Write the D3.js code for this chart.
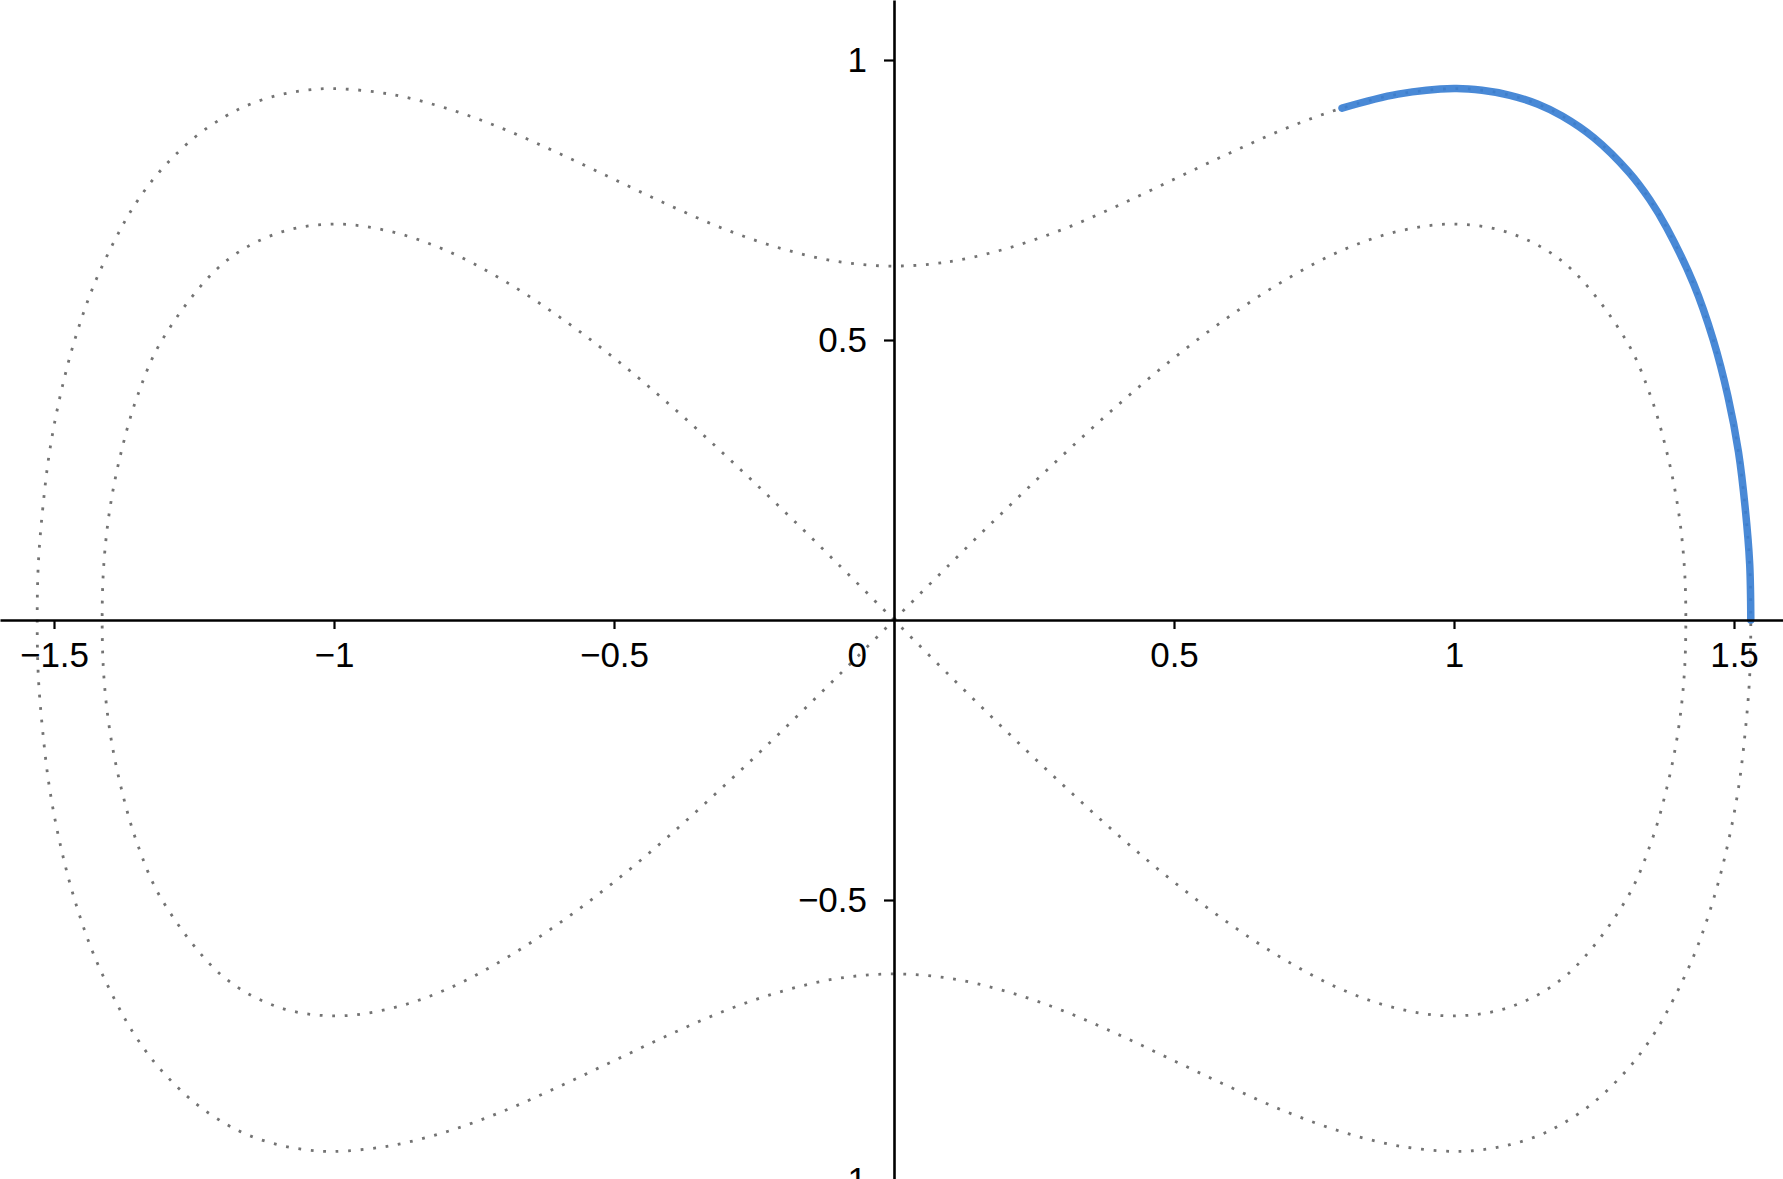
<!DOCTYPE html>
<html>
<head>
<meta charset="utf-8">
<script src="https://cdn.jsdelivr.net/npm/d3@7"></script>
<style>
  html, body { margin: 0; padding: 0; background: #ffffff; }
  svg { display: block; }
  .tick text { font-family: "Liberation Sans", Arial, sans-serif; }
</style>
</head>
<body>
<svg id="chart" width="1783" height="1179"></svg>
<script>
// ---- data ----
// outer closed orbit (level curve), traversed around the whole loop
const outerOrbit = [
  [0,0.632],[0.1,0.640],[0.2,0.663],[0.3,0.697],[0.4,0.740],[0.5,0.787],[0.6,0.834],[0.7,0.878],
  [0.8,0.914],[0.9,0.939],[1.0,0.949],[1.05,0.946],[1.1,0.937],[1.15,0.921],[1.193,0.9],[1.25,0.861],
  [1.312,0.8],[1.350,0.75],[1.380,0.7],[1.428,0.6],
  [1.463,0.5],[1.489,0.4],[1.508,0.3],[1.520,0.2],[1.528,0.1],[1.530,0],
  [1.528,-0.1],[1.520,-0.2],[1.508,-0.3],[1.489,-0.4],[1.463,-0.5],[1.428,-0.6],[1.380,-0.7],
  [1.350,-0.75],[1.312,-0.8],[1.25,-0.861],[1.193,-0.9],[1.15,-0.921],[1.1,-0.937],[1.05,-0.946],
  [1.0,-0.949],[0.9,-0.939],[0.8,-0.914],[0.7,-0.878],
  [0.6,-0.834],[0.5,-0.787],[0.4,-0.740],[0.3,-0.697],[0.2,-0.663],[0.1,-0.640],[0,-0.632],
  [-0.1,-0.640],[-0.2,-0.663],[-0.3,-0.697],[-0.4,-0.740],[-0.5,-0.787],[-0.6,-0.834],[-0.7,-0.878],
  [-0.8,-0.914],[-0.9,-0.939],[-1.0,-0.949],[-1.05,-0.946],[-1.1,-0.937],[-1.15,-0.921],[-1.193,-0.9],
  [-1.25,-0.861],[-1.312,-0.8],[-1.350,-0.75],[-1.380,-0.7],
  [-1.428,-0.6],[-1.463,-0.5],[-1.489,-0.4],[-1.508,-0.3],[-1.520,-0.2],[-1.528,-0.1],[-1.530,0],
  [-1.528,0.1],[-1.520,0.2],[-1.508,0.3],[-1.489,0.4],[-1.463,0.5],[-1.428,0.6],[-1.380,0.7],
  [-1.350,0.75],[-1.312,0.8],[-1.25,0.861],[-1.193,0.9],[-1.15,0.921],[-1.1,0.937],[-1.05,0.946],
  [-1.0,0.949],[-0.9,0.939],[-0.8,0.914],[-0.7,0.878],
  [-0.6,0.834],[-0.5,0.787],[-0.4,0.740],[-0.3,0.697],[-0.2,0.663],[-0.1,0.640]
];
// inner figure-eight (separatrix), right lobe
const innerRightLobe = [
  [0,0],[0.1,0.1],[0.2,0.198],[0.3,0.293],[0.4,0.384],[0.5,0.468],[0.6,0.543],[0.7,0.608],
  [0.8,0.660],[0.9,0.694],[1.0,0.707],[1.1,0.691],[1.2,0.635],[1.307,0.5],[1.351,0.4],
  [1.380,0.3],[1.400,0.2],[1.411,0.1],[1.414,0],
  [1.411,-0.1],[1.400,-0.2],[1.380,-0.3],[1.351,-0.4],[1.307,-0.5],[1.2,-0.635],[1.1,-0.691],
  [1.0,-0.707],[0.9,-0.694],[0.8,-0.660],[0.7,-0.608],[0.6,-0.543],[0.5,-0.468],[0.4,-0.384],
  [0.3,-0.293],[0.2,-0.198],[0.1,-0.1],[0,0]
];
// inner figure-eight, left lobe
const innerLeftLobe = [
  [0,0],[-0.1,0.1],[-0.2,0.198],[-0.3,0.293],[-0.4,0.384],[-0.5,0.468],[-0.6,0.543],[-0.7,0.608],
  [-0.8,0.660],[-0.9,0.694],[-1.0,0.707],[-1.1,0.691],[-1.2,0.635],[-1.307,0.5],[-1.351,0.4],
  [-1.380,0.3],[-1.400,0.2],[-1.411,0.1],[-1.414,0],
  [-1.411,-0.1],[-1.400,-0.2],[-1.380,-0.3],[-1.351,-0.4],[-1.307,-0.5],[-1.2,-0.635],[-1.1,-0.691],
  [-1.0,-0.707],[-0.9,-0.694],[-0.8,-0.660],[-0.7,-0.608],[-0.6,-0.543],[-0.5,-0.468],[-0.4,-0.384],
  [-0.3,-0.293],[-0.2,-0.198],[-0.1,-0.1],[0,0]
];
// highlighted trajectory segment
const trajectory = [
  [0.8,0.914],[0.9,0.939],[1.0,0.949],[1.05,0.946],[1.1,0.937],[1.15,0.921],[1.193,0.9],[1.25,0.861],
  [1.312,0.8],[1.350,0.75],[1.380,0.7],[1.428,0.6],
  [1.463,0.5],[1.489,0.4],[1.508,0.3],[1.520,0.2],[1.528,0.1],[1.530,0]
];
const xTicks = [-1.5, -1, -0.5, 0.5, 1, 1.5];
const yTicks = [-1, -0.5, 0.5, 1];
const originLabel = "0";

// ---- drawing ----
const W = 1783, H = 1179;
const svg = d3.select("#chart");
const x = d3.scaleLinear().domain([-894/560, (W-894)/560]).range([0, W]);
const y = d3.scaleLinear().domain([-(H-620)/560, 620/560]).range([H, 0]);

const lineOpen = d3.line().x(d => x(d[0])).y(d => y(d[1])).curve(d3.curveCatmullRom.alpha(0.5));
const lineClosed = d3.line().x(d => x(d[0])).y(d => y(d[1])).curve(d3.curveCatmullRomClosed.alpha(0.5));

const dotted = g => g.attr("fill", "none").attr("stroke", "#737373")
  .attr("stroke-width", 2.8).attr("stroke-dasharray", "2.8 9.7");

svg.append("path").datum(outerOrbit).attr("d", lineClosed).call(dotted);
svg.append("path").datum(innerRightLobe).attr("d", lineOpen).call(dotted);
svg.append("path").datum(innerLeftLobe).attr("d", lineOpen).call(dotted);

svg.append("path").datum(trajectory).attr("d", lineOpen)
  .attr("fill", "none").attr("stroke", "#3a7fd3").attr("stroke-width", 7.5)
  .attr("stroke-linecap", "round").attr("stroke-linejoin", "round").attr("opacity", 0.92);

const fmt = d3.format("");
const xAxis = svg.append("g").attr("transform", `translate(0,${y(0)})`)
  .call(d3.axisBottom(x).tickValues(xTicks).tickSize(9).tickSizeOuter(0).tickPadding(13).tickFormat(fmt));
const yAxis = svg.append("g").attr("transform", `translate(${x(0)},0)`)
  .call(d3.axisLeft(y).tickValues(yTicks).tickSize(10).tickSizeOuter(0).tickPadding(17).tickFormat(fmt));

[xAxis, yAxis].forEach(a => {
  a.select(".domain").attr("stroke", "#000").attr("stroke-width", 2.6);
  a.selectAll(".tick line").attr("stroke", "#000").attr("stroke-width", 2.2);
  a.selectAll(".tick text").attr("fill", "#000").attr("font-size", 35)
    .attr("font-family", "'Liberation Sans', Arial, sans-serif");
});

svg.append("text").text(originLabel)
  .attr("x", x(0) - 27).attr("y", y(0) + 22).attr("dy", "0.71em")
  .attr("text-anchor", "end").attr("font-size", 35)
  .attr("font-family", "'Liberation Sans', Arial, sans-serif").attr("fill", "#000");
</script>
</body>
</html>
